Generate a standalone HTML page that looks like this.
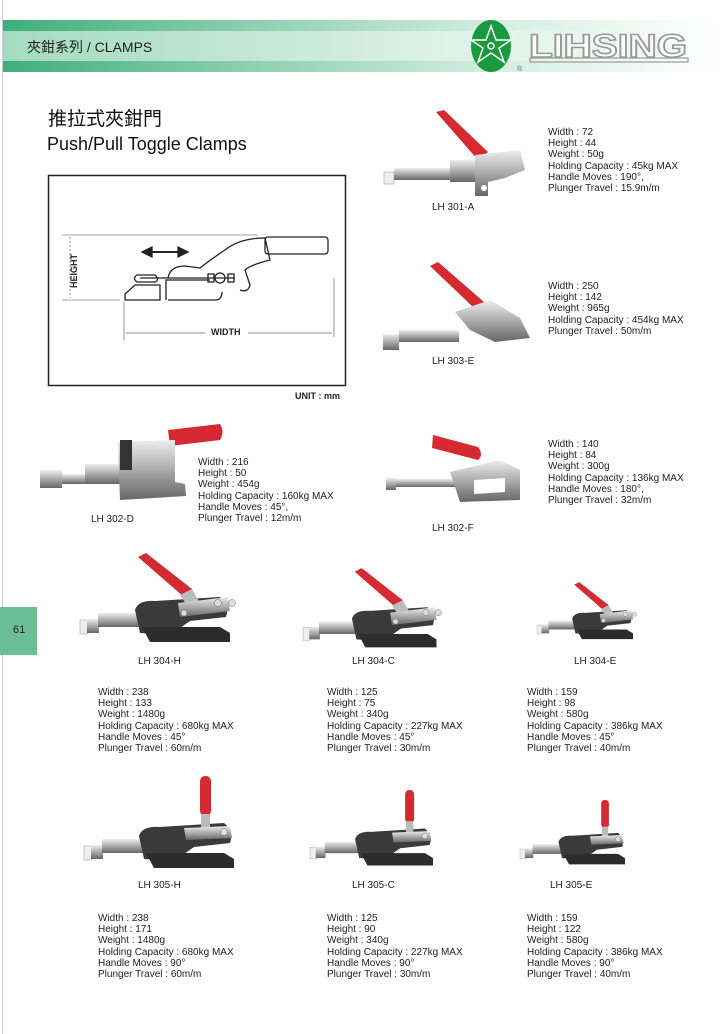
<!DOCTYPE html>
<html><head><meta charset="utf-8"><style>
body{margin:0;background:#fff;}
#p{position:relative;width:720px;height:1034px;overflow:hidden;background:#fff;font-family:"Liberation Sans","Noto Sans CJK TC",sans-serif;color:#222;}
.t{position:absolute;font-size:10px;line-height:11.2px;white-space:nowrap;}
.l{position:absolute;font-size:10px;white-space:nowrap;}
</style></head><body><div id="p">
<svg width="720" height="1034" style="position:absolute;left:0;top:0">
<defs>
<linearGradient id="hg" x1="0" x2="1" y1="0" y2="0">
<stop offset="0" stop-color="#3fae7c"/><stop offset="0.35" stop-color="#8fd0b0"/><stop offset="0.7" stop-color="#d6efe3"/><stop offset="1" stop-color="#ffffff"/></linearGradient>
<linearGradient id="mg" x1="0" x2="1"><stop offset="0" stop-color="#aee0c8" stop-opacity=".9"/><stop offset=".6" stop-color="#e4f4ec" stop-opacity=".8"/><stop offset="1" stop-color="#fff" stop-opacity="0"/></linearGradient>
<linearGradient id="sv" x1="0" x2="0" y1="0" y2="1"><stop offset="0" stop-color="#eee"/><stop offset=".5" stop-color="#aaa"/><stop offset="1" stop-color="#666"/></linearGradient>
<g id="c304">
<rect x="0" y="75" width="8" height="14" fill="#eee" stroke="#999" stroke-width=".5"/>
<rect x="7" y="74" width="12" height="14" fill="url(#sv)"/>
<rect x="18" y="68" width="42" height="14" fill="url(#sv)"/>
<path d="M55 65 Q58 55 75 56 L140 52 Q150 60 146 72 L110 76 L90 90 L60 88 Z" fill="#3a3a3a"/>
<path d="M62 82 L140 82 L150 88 L150 97 L70 97 Z" fill="#2c2c2c"/>
<path d="M58 12 L66 8 L112 44 L104 52 Z" fill="#d52a32"/>
<path d="M100 50 L112 44 L120 58 L108 62 Z" fill="#bbb"/>
<path d="M98 58 L148 52 L150 66 L100 72 Z" fill="url(#sv)"/>
<circle cx="104" cy="68" r="3" fill="#ddd" stroke="#666" stroke-width=".5"/>
<circle cx="138" cy="58" r="3.5" fill="#ddd" stroke="#666" stroke-width=".5"/>
<circle cx="152" cy="58" r="3.5" fill="#ddd" stroke="#666" stroke-width=".5"/>
</g>
<g id="c305">
<rect x="0" y="70" width="8" height="14" fill="#eee" stroke="#999" stroke-width=".5"/>
<rect x="7" y="69" width="12" height="14" fill="url(#sv)"/>
<rect x="18" y="63" width="42" height="14" fill="url(#sv)"/>
<path d="M55 60 Q58 50 75 51 L140 47 Q150 55 146 67 L110 71 L90 85 L60 83 Z" fill="#3a3a3a"/>
<path d="M62 77 L140 77 L150 83 L150 92 L70 92 Z" fill="#2c2c2c"/>
<rect x="116" y="0" width="11" height="40" rx="5" fill="#d52a32"/>
<rect x="117" y="38" width="9" height="14" fill="#bbb"/>
<path d="M100 52 L146 50 L148 62 L102 64 Z" fill="url(#sv)"/>
<circle cx="140" cy="56" r="3.5" fill="#ddd" stroke="#666" stroke-width=".5"/>
</g>
</defs>
<line x1="2.5" y1="0" x2="2.5" y2="1034" stroke="#ccc"/>
<rect x="3" y="20" width="717" height="52" fill="url(#hg)"/>
<rect x="3" y="31" width="717" height="30" fill="url(#mg)"/>
<ellipse cx="491" cy="46" rx="20" ry="26" fill="#1a9a3e"/>
<g stroke="#fff" stroke-width="1.5" fill="none">
<path d="M491 26 L496 40 L511 40 L499 48 L504 62 L491 53 L478 62 L483 48 L471 40 L486 40 Z"/>
<circle cx="491" cy="46" r="3"/>
</g>
<text x="517" y="71" font-size="7" fill="#666">®</text>
<text x="529" y="57" font-family="Liberation Sans" font-weight="bold" font-size="32" fill="#fff" stroke="#999" stroke-width="1.6" textLength="158" lengthAdjust="spacingAndGlyphs">LIHSING</text>
<rect x="530" y="58" width="158" height="4" fill="none" stroke="#999" stroke-width="1.2"/>
<rect x="0" y="607" width="37" height="48" fill="#6bbf95"/>
<!-- diagram -->
<rect x="48.5" y="175.5" width="297" height="210" fill="none" stroke="#222" stroke-width="1.5"/>
<g stroke="#222" fill="none" stroke-width="1.3">
<line x1="62" y1="235" x2="258" y2="235" stroke="#888" stroke-width=".7"/>
<line x1="62" y1="300" x2="120" y2="300" stroke="#888" stroke-width=".7"/>
<line x1="70" y1="237" x2="70" y2="298" stroke="#666" stroke-width=".7" stroke-dasharray="2 2"/>
<line x1="124" y1="302" x2="124" y2="340" stroke="#666" stroke-width=".7"/>
<line x1="334" y1="278" x2="334" y2="337" stroke="#666" stroke-width=".7"/>
<line x1="126" y1="333" x2="205" y2="333" stroke="#666" stroke-width=".7"/>
<line x1="248" y1="333" x2="332" y2="333" stroke="#666" stroke-width=".7"/>
<path d="M125 300 L125 294 L135 285 L160 285 L160 300 Z"/>
<path d="M166 300 L166 280 L210 280"/>
<path d="M168 300 L215 300 Q222 300 222 292"/>
<path d="M137 275 L155 275 Q160 280 155 282 L137 282 Q132 278 137 275Z"/>
<line x1="140" y1="278" x2="235" y2="278"/>
<path d="M168 278 Q170 266 185 266 L200 268 Q210 260 225 250 Q240 238 265 238 L270 260 Q250 265 245 270 L250 285 Q248 293 240 290"/>
<rect x="265" y="237" width="63" height="17" rx="3"/>
<path d="M142 252 L188 252" stroke-width="2"/>
<path d="M142 252 L152 247 L152 257Z M188 252 L178 247 L178 257Z" fill="#222"/>
<circle cx="220" cy="278" r="5"/>
<rect x="208" y="274" width="6" height="8"/>
<rect x="228" y="274" width="6" height="8"/>
</g>
<!-- 301-A -->
<path d="M436 112 L444 110 L488 152 L478 160 Z" fill="#d52a32"/>
<rect x="384" y="172" width="10" height="12" fill="#eee" stroke="#999" stroke-width=".5"/>
<rect x="394" y="168" width="60" height="12" fill="url(#sv)"/>
<rect x="450" y="160" width="25" height="22" fill="url(#sv)"/>
<path d="M475 155 L520 150 L525 170 L505 178 L488 182 L488 196 L475 196 Z" fill="url(#sv)"/>
<circle cx="484" cy="188" r="3" fill="#fff"/>
<!-- 303-E -->
<path d="M430 266 L438 262 L484 302 L474 308 Z" fill="#d52a32"/>
<rect x="383" y="334" width="16" height="16" fill="url(#sv)"/>
<rect x="399" y="330" width="60" height="12" fill="url(#sv)"/>
<path d="M455 312 L490 300 L520 318 L530 338 L495 342 L470 330 Z" fill="url(#sv)"/>
<!-- 302-D -->
<path d="M168 430 L220 424 Q225 432 220 440 L170 446 Z" fill="#d52a32"/>
<rect x="40" y="470" width="22" height="18" fill="url(#sv)"/>
<rect x="62" y="474" width="40" height="10" fill="url(#sv)"/>
<rect x="85" y="464" width="35" height="20" fill="url(#sv)"/>
<path d="M118 442 L175 440 L175 482 L185 484 L186 496 L120 500 Z" fill="url(#sv)"/>
<rect x="120" y="440" width="12" height="30" fill="#333"/>
<!-- 302-F -->
<path d="M433 435 L478 447 Q484 455 478 460 L432 448 Z" fill="#d52a32"/>
<rect x="386" y="478" width="10" height="12" fill="url(#sv)"/>
<rect x="396" y="479" width="60" height="8" fill="url(#sv)"/>
<path d="M450 472 L500 460 L520 470 L520 500 L460 502 Z" fill="url(#sv)"/>
<path d="M474 480 L505 478 L505 492 L474 494Z" fill="#fff"/>
<!-- 304 -->
<use href="#c304" transform="translate(80,545)"/>
<use href="#c304" transform="translate(303,561) scale(.89)"/>
<use href="#c304" transform="translate(537,577) scale(.64)"/>
<!-- 305 -->
<use href="#c305" transform="translate(84,776)"/>
<use href="#c305" transform="translate(310,790) scale(.82)"/>
<use href="#c305" transform="translate(520,800) scale(.7)"/>
</svg>
<div class="l" style="left:27px;top:37px;font-size:14px;color:#222">夾鉗系列 / CLAMPS</div>
<div class="l" style="left:13px;top:624px;font-size:11px">61</div>
<div class="l" style="left:48px;top:104px;font-size:19px;color:#111">推拉式夾鉗門</div>
<div class="l" style="left:47px;top:134px;font-size:18px;color:#111">Push/Pull Toggle Clamps</div>
<div class="l" style="left:69px;top:288px;font-size:9px;font-weight:bold;transform:rotate(-90deg);transform-origin:0 0">HEIGHT</div>
<div class="l" style="left:211px;top:327px;font-size:9px;font-weight:bold">WIDTH</div>
<div class="l" style="left:295px;top:391px;font-size:9px;font-weight:bold">UNIT : mm</div>
<div class="t" style="left:548px;top:127px">Width : 72<br>Height : 44<br>Weight : 50g<br>Holding Capacity : 45kg MAX<br>Handle Moves : 190°,<br>Plunger Travel : 15.9m/m</div>
<div class="t" style="left:548px;top:281px">Width : 250<br>Height : 142<br>Weight : 965g<br>Holding Capacity : 454kg MAX<br>Plunger Travel : 50m/m</div>
<div class="t" style="left:548px;top:439px">Width : 140<br>Height : 84<br>Weight : 300g<br>Holding Capacity : 136kg MAX<br>Handle Moves : 180°,<br>Plunger Travel : 32m/m</div>
<div class="t" style="left:198px;top:457px">Width : 216<br>Height : 50<br>Weight : 454g<br>Holding Capacity : 160kg MAX<br>Handle Moves : 45°,<br>Plunger Travel : 12m/m</div>
<div class="t" style="left:98px;top:687px">Width : 238<br>Height : 133<br>Weight : 1480g<br>Holding Capacity : 680kg MAX<br>Handle Moves : 45°<br>Plunger Travel : 60m/m</div>
<div class="t" style="left:327px;top:687px">Width : 125<br>Height : 75<br>Weight : 340g<br>Holding Capacity : 227kg MAX<br>Handle Moves : 45°<br>Plunger Travel : 30m/m</div>
<div class="t" style="left:527px;top:687px">Width : 159<br>Height : 98<br>Weight : 580g<br>Holding Capacity : 386kg MAX<br>Handle Moves : 45°<br>Plunger Travel : 40m/m</div>
<div class="t" style="left:98px;top:913px">Width : 238<br>Height : 171<br>Weight : 1480g<br>Holding Capacity : 680kg MAX<br>Handle Moves : 90°<br>Plunger Travel : 60m/m</div>
<div class="t" style="left:327px;top:913px">Width : 125<br>Height : 90<br>Weight : 340g<br>Holding Capacity : 227kg MAX<br>Handle Moves : 90°<br>Plunger Travel : 30m/m</div>
<div class="t" style="left:527px;top:913px">Width : 159<br>Height : 122<br>Weight : 580g<br>Holding Capacity : 386kg MAX<br>Handle Moves : 90°<br>Plunger Travel : 40m/m</div>
<div class="l" style="left:432px;top:202px">LH 301-A</div>
<div class="l" style="left:432px;top:356px">LH 303-E</div>
<div class="l" style="left:91px;top:514px">LH 302-D</div>
<div class="l" style="left:432px;top:523px">LH 302-F</div>
<div class="l" style="left:138px;top:656px">LH 304-H</div>
<div class="l" style="left:352px;top:656px">LH 304-C</div>
<div class="l" style="left:574px;top:656px">LH 304-E</div>
<div class="l" style="left:138px;top:880px">LH 305-H</div>
<div class="l" style="left:352px;top:880px">LH 305-C</div>
<div class="l" style="left:550px;top:880px">LH 305-E</div>
</div></body></html>
